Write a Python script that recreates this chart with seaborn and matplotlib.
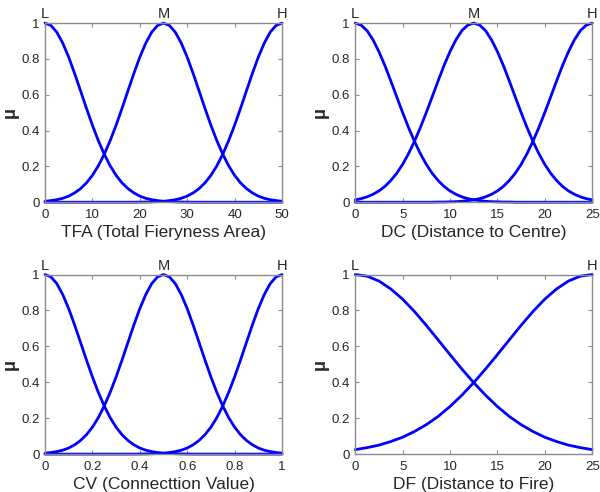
import matplotlib
matplotlib.use("Agg")
import matplotlib.pyplot as plt
import seaborn as sns

# ============================================================
#  Data — membership values
# ============================================================

# TFA (0..50) and CV (0..1): three sets L / M / H, 41 samples each
tfa_x = [0, 1.25, 2.5, 3.75, 5, 6.25, 7.5, 8.75, 10, 11.25, 12.5, 13.75, 15, 16.25,
         17.5, 18.75, 20, 21.25, 22.5, 23.75, 25, 26.25, 27.5, 28.75, 30, 31.25,
         32.5, 33.75, 35, 36.25, 37.5, 38.75, 40, 41.25, 42.5, 43.75, 45, 46.25,
         47.5, 48.75, 50]
cv_x = [0, 0.025, 0.05, 0.075, 0.1, 0.125, 0.15, 0.175, 0.2, 0.225, 0.25, 0.275,
        0.3, 0.325, 0.35, 0.375, 0.4, 0.425, 0.45, 0.475, 0.5, 0.525, 0.55, 0.575,
        0.6, 0.625, 0.65, 0.675, 0.7, 0.725, 0.75, 0.775, 0.8, 0.825, 0.85, 0.875,
        0.9, 0.925, 0.95, 0.975, 1.0]
wide_L = [1.00, 0.987, 0.949, 0.888, 0.810, 0.719, 0.622, 0.524, 0.430, 0.344,
          0.268, 0.203, 0.150, 0.108, 0.076, 0.052, 0.034, 0.022, 0.014, 0.009,
          0.005, 0.003, 0.002, 0.001, 0.0005, 0, 0, 0, 0, 0,
          0, 0, 0, 0, 0, 0, 0, 0, 0, 0, 0]
wide_M = [0.005, 0.009, 0.014, 0.022, 0.034, 0.052, 0.076, 0.108, 0.150, 0.203,
          0.268, 0.344, 0.430, 0.524, 0.622, 0.719, 0.810, 0.888, 0.949, 0.987,
          1.00, 0.987, 0.949, 0.888, 0.810, 0.719, 0.622, 0.524, 0.430, 0.344,
          0.268, 0.203, 0.150, 0.108, 0.076, 0.052, 0.034, 0.022, 0.014, 0.009,
          0.005]
wide_H = [0, 0, 0, 0, 0, 0, 0, 0, 0, 0, 0, 0, 0, 0, 0, 0,
          0.0005, 0.001, 0.002, 0.003, 0.005, 0.009, 0.014, 0.022, 0.034, 0.052,
          0.076, 0.108, 0.150, 0.203, 0.268, 0.344, 0.430, 0.524, 0.622, 0.719,
          0.810, 0.888, 0.949, 0.987, 1.00]

# DC (0..25)
dc_x = [0, 0.625, 1.25, 1.875, 2.5, 3.125, 3.75, 4.375, 5, 5.625, 6.25, 6.875,
        7.5, 8.125, 8.75, 9.375, 10, 10.625, 11.25, 11.875, 12.5, 13.125, 13.75,
        14.375, 15, 15.625, 16.25, 16.875, 17.5, 18.125, 18.75, 19.375, 20,
        20.625, 21.25, 21.875, 22.5, 23.125, 23.75, 24.375, 25]
dc_L = [1.00, 0.989, 0.958, 0.907, 0.841, 0.764, 0.678, 0.589, 0.501, 0.417,
        0.340, 0.271, 0.211, 0.161, 0.121, 0.088, 0.063, 0.044, 0.030, 0.020,
        0.013, 0.009, 0.005, 0.003, 0.002, 0.001, 0.001, 0, 0, 0,
        0, 0, 0, 0, 0, 0, 0, 0, 0, 0, 0]
dc_M = [0.013, 0.020, 0.030, 0.044, 0.063, 0.088, 0.121, 0.161, 0.211, 0.271,
        0.340, 0.417, 0.501, 0.589, 0.678, 0.764, 0.841, 0.907, 0.958, 0.989,
        1.00, 0.989, 0.958, 0.907, 0.841, 0.764, 0.678, 0.589, 0.501, 0.417,
        0.340, 0.271, 0.211, 0.161, 0.121, 0.088, 0.063, 0.044, 0.030, 0.020,
        0.013]
dc_H = [0, 0, 0, 0, 0, 0, 0, 0, 0, 0, 0, 0, 0, 0,
        0.001, 0.001, 0.002, 0.003, 0.005, 0.009, 0.013, 0.020, 0.030, 0.044,
        0.063, 0.088, 0.121, 0.161, 0.211, 0.271, 0.340, 0.417, 0.501, 0.589,
        0.678, 0.764, 0.841, 0.907, 0.958, 0.989, 1.00]

# DF (0..25): only L and H
df_x = [0, 1.25, 2.5, 3.75, 5, 6.25, 7.5, 8.75, 10, 11.25, 12.5,
        13.75, 15, 16.25, 17.5, 18.75, 20, 21.25, 22.5, 23.75, 25]
df_L = [1.00, 0.991, 0.964, 0.920, 0.863, 0.794, 0.717, 0.636, 0.554, 0.474, 0.398,
        0.328, 0.265, 0.210, 0.164, 0.126, 0.094, 0.070, 0.050, 0.036, 0.025]
df_H = [0.025, 0.036, 0.050, 0.070, 0.094, 0.126, 0.164, 0.210, 0.265, 0.328, 0.398,
        0.474, 0.554, 0.636, 0.717, 0.794, 0.863, 0.920, 0.964, 0.991, 1.00]

panels = [
    ("TFA (Total Fieryness Area)", tfa_x, [wide_L, wide_M, wide_H], ["L", "M", "H"],
     [0, 10, 20, 30, 40, 50], ["0", "10", "20", "30", "40", "50"]),
    ("DC (Distance to Centre)", dc_x, [dc_L, dc_M, dc_H], ["L", "M", "H"],
     [0, 5, 10, 15, 20, 25], ["0", "5", "10", "15", "20", "25"]),
    ("CV (Connecttion Value)", cv_x, [wide_L, wide_M, wide_H], ["L", "M", "H"],
     [0, 0.2, 0.4, 0.6, 0.8, 1], ["0", "0.2", "0.4", "0.6", "0.8", "1"]),
    ("DF (Distance to Fire)", df_x, [df_L, df_H], ["L", "H"],
     [0, 5, 10, 15, 20, 25], ["0", "5", "10", "15", "20", "25"]),
]
y_ticks = [0, 0.2, 0.4, 0.6, 0.8, 1]
y_labels = ["0", "0.2", "0.4", "0.6", "0.8", "1"]

# ============================================================
#  Plot
# ============================================================

sns.set_theme(style="white")
plt.rcParams['font.family'] = ['Liberation Sans', 'DejaVu Sans']

TEXT = '#262626'
SPINE = '#8c8c8c'

fig = plt.figure(figsize=(6, 4.92), dpi=100)
boxes = [
    [0.075, 0.589, 0.395, 0.364],
    [0.592, 0.589, 0.395, 0.364],
    [0.075, 0.077, 0.395, 0.365],
    [0.592, 0.077, 0.395, 0.365],
]

for box, (xlabel, x, curves, names, xt, xtl) in zip(boxes, panels):
    ax = fig.add_axes(box)
    for vals in curves:
        sns.lineplot(x=x, y=vals, ax=ax, color='#0000ff', linewidth=2.0,
                     estimator=None, sort=False, clip_on=False)
    ax.set_xlim(x[0], x[-1])
    ax.set_ylim(0, 1)
    ax.set_xticks(xt)
    ax.set_xticklabels(xtl)
    ax.set_yticks(y_ticks)
    ax.set_yticklabels(y_labels)
    ax.tick_params(direction='in', length=3, width=0.8, color=SPINE,
                   labelsize=9.5, labelcolor=TEXT,
                   bottom=True, left=True, top=True, right=True)
    ax.tick_params(axis='x', pad=5)
    ax.tick_params(axis='y', pad=4)
    for s in ax.spines.values():
        s.set_color(SPINE)
        s.set_linewidth(1.0)
    ax.set_xlabel(xlabel, fontsize=12.5, color=TEXT, labelpad=3)
    ax.set_ylabel('μ', fontsize=13, fontweight='bold', color=TEXT, labelpad=2)

    # set names above the frame
    if len(names) == 3:
        pos = [x[0], x[len(x) // 2], x[-1]]
    else:
        pos = [x[0], x[-1]]
    for p, n in zip(pos, names):
        ax.text(p, 1.01, n, ha='center', va='bottom', fontsize=10.5, color=TEXT,
                transform=ax.get_xaxis_transform())

fig.savefig('out.png', dpi=100)
